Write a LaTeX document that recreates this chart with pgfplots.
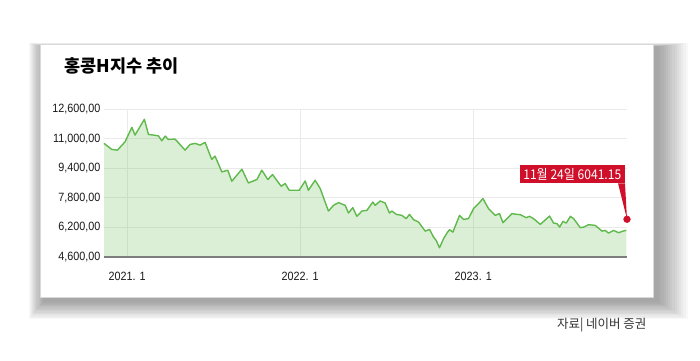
\documentclass[border=0pt]{standalone}
\usepackage{pgfplots}
\pgfplotsset{compat=1.18}
\usepackage{pgfplotstable}
\usepackage{fontspec}
\setmainfont{Liberation Sans}
\newfontfamily\cond[FakeStretch=0.9]{Liberation Sans}
\newfontfamily\kr{Noto Sans CJK KR}
\newfontfamily\krc[FakeStretch=0.9]{Noto Sans CJK KR}
\definecolor{linegreen}{RGB}{95,185,75}
\definecolor{annored}{RGB}{208,16,42}
\definecolor{gridgray}{RGB}{234,234,234}
\definecolor{axisgray}{RGB}{125,125,125}

\pgfplotstableread{
m v
-1.60 10740
-1.06 10415
-0.67 10377
-0.14 10827
0.33 11608
0.55 11190
1.20 12042
1.48 11228
1.82 11190
2.17 11150
2.41 10881
2.64 11136
2.86 10957
3.33 10973
4.02 10377
4.37 10686
4.72 10740
5.06 10648
5.41 10794
5.87 9872
6.10 10051
6.57 9200
6.98 9292
7.26 8695
7.96 9346
8.41 8603
9.00 8787
9.34 9292
9.76 8787
10.08 9059
10.68 8424
10.96 8570
11.24 8207
11.93 8207
12.35 8711
12.57 8207
13.04 8749
13.39 8299
13.96 7084
14.31 7393
14.66 7540
15.12 7393
15.35 6976
15.65 7269
15.93 6797
16.28 7084
16.63 7122
17.04 7572
17.20 7393
17.55 7627
17.89 7518
18.19 6976
18.36 7084
18.66 6905
19.05 6851
19.35 6672
19.58 6905
19.86 6618
20.21 6488
20.67 5999
20.97 6092
21.25 5674
21.43 5495
21.66 5099
21.94 5587
22.22 5945
22.36 6075
22.59 5945
23.05 6851
23.33 6634
23.67 6672
24.02 7214
24.37 7486
24.67 7757
25.06 7214
25.52 6851
25.82 6943
26.06 6455
26.68 6943
27.03 6905
27.26 6889
27.67 6726
27.90 6797
28.18 6672
28.65 6363
29.29 6813
29.57 6433
29.81 6401
29.99 6216
30.22 6526
30.45 6433
30.73 6797
30.96 6672
31.42 6184
31.65 6216
32.00 6347
32.46 6309
32.93 5999
33.15 6037
33.38 5891
33.73 6037
34.08 5913
34.38 5999
34.61 6041
}\hsi

\begin{document}
\begin{tikzpicture}
\useasboundingbox (0,0) rectangle (700bp,361bp);
\fill[white] (0,0) rectangle (700bp,361bp);
\begin{scope}[x=1bp,y=1bp]
\foreach \i in {1,...,14} {
  \fill[black, opacity=0.028] ({44-1.1*\i},{60-1.3*\i}) rectangle ({657+2.2*\i},{314+0.3*\i});
}
\fill[white] (40,64) rectangle (653,317);
\draw[black!15, line width=0.5] (40,64) rectangle (653,317);
\end{scope}

\begin{axis}[
  at={(104bp,104bp)}, anchor=south west,
  scale only axis, width=523bp, height=148bp,
  xmin=-1.6, xmax=34.66, ymin=4600, ymax=12600,
  axis line style={draw=none},
  scaled y ticks=false, scaled x ticks=false,
  xtick={0,12,24}, xticklabels={2021. 1, 2022. 1, 2023. 1},
  ytick={4600,6200,7800,9400,11000,12600},
  yticklabels={{4,600,00},{6,200,00},{7,800,00},{9,400,00},{11,000,00},{12,600,00}},
  major tick length=0pt,
  tick style={draw=none},
  xmajorgrids, ymajorgrids,
  grid style={gridgray, line width=0.8bp},
  ticklabel style={font=\cond\fontsize{12bp}{12bp}\selectfont, text=black!90},
  xticklabel style={yshift=-12bp},
  clip=false,
]
\addplot[draw=none, fill=linegreen, fill opacity=0.22] table[x=m,y=v]{\hsi} -- (axis cs:34.61,4600) -- (axis cs:-1.6,4600) -- cycle;
\addplot[linegreen, line width=1.4bp, line join=round] table[x=m,y=v]{\hsi};
\draw[axisgray, line width=1.8bp] (axis cs:-1.6,4600) -- (axis cs:34.66,4600);
\fill[annored] (axis cs:34.04,8584) -- (axis cs:34.52,8584) -- (axis cs:34.66,6640) -- cycle;
\addplot[only marks, mark=*, mark size=3.4bp, annored] coordinates {(34.66,6640)};
\node[fill=annored, text=white, anchor=south east, minimum width=105bp, minimum height=18bp, inner sep=0pt, font=\krc\fontsize{13.4bp}{13.4bp}\selectfont] at (axis cs:34.52,8584) {11월 24일 6041.15};
\end{axis}

\node[anchor=base west, font=\kr\bfseries\fontsize{17.5bp}{17.5bp}\selectfont] at (61bp,288bp) {홍콩H지수 추이};
\node[anchor=base east, font=\kr\fontsize{12.5bp}{12.5bp}\selectfont, text=black!80] at (650bp,33bp) {자료| 네이버 증권};
\end{tikzpicture}
\end{document}
